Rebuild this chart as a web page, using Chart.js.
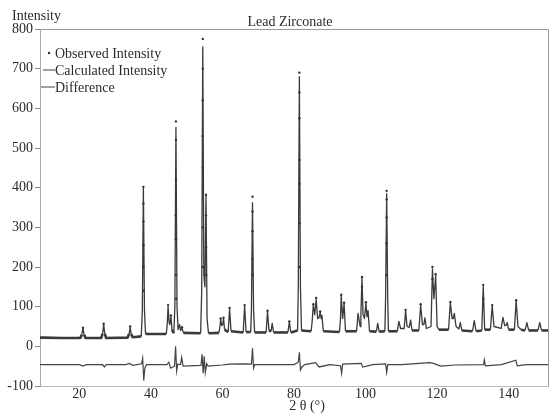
<!DOCTYPE html>
<html lang="en">
<head>
<meta charset="UTF-8">
<title>Lead Zirconate</title>
<style>
    body { margin: 0; background: #fff; }
    .wrap { width: 552px; height: 414px; position: relative; }
</style>
</head>
<body>
<div class="wrap"><canvas id="xrd"></canvas></div>
<script src="https://cdn.jsdelivr.net/npm/chart.js"></script>
<script>
// 2-theta (deg), intensity - vertices of the calculated profile
const calculated = [
    [9,22],[10,22],[15,21],[20.3,21],[20.7,30],[21.0,45],[21.3,30],[21.7,21],
    [26.1,21],[26.5,32],[26.8,55],[27.1,32],[27.5,21],
    [33.5,22],[33.9,31],[34.2,48],[34.5,31],[34.9,23],
    [37.3,25],[37.6,90],[37.9,400],[38.2,90],[38.5,32],[39,31],
    [44.3,31],[44.6,60],[44.8,100],[45.1,60],[45.3,55],[45.6,75],[45.9,42],[46.4,33],
    [46.7,100],[47.0,552],[47.3,100],[47.6,42],[48.0,55],[48.3,40],[48.7,46],[49.1,34],
    [53.9,33],[54.2,140],[54.5,755],[54.8,180],[55.1,150],[55.4,380],[55.7,70],[56.1,33],
    [59.0,34],[59.3,50],[59.5,68],[59.8,52],[60.1,56],[60.3,70],[60.6,42],[61.6,36],[62.0,95],[62.4,38],
    [65.8,35],[66.2,102],[66.6,36],[67.9,36],[68.1,90],[68.4,362],[68.7,90],[69.0,35],
    [72.2,35],[72.6,88],[73.0,40],[73.6,38],[73.9,58],[74.3,35],[78.3,35],[78.7,62],[79.1,35],
    [81.0,40],[81.2,150],[81.5,680],[81.8,150],[82.1,40],
    [84.8,38],[85.1,65],[85.4,104],[85.8,80],[86.2,118],[86.6,70],[87.0,72],[87.3,86],[87.6,70],[87.8,78],[88.2,38],
    [92.7,36],[93.0,70],[93.2,128],[93.6,70],[94.0,108],[94.4,38],
    [97.5,38],[97.9,83],[98.5,50],[98.7,80],[99.0,172],[99.3,80],[99.7,70],[100.1,109],[100.4,75],[100.7,90],[101.1,38],
    [103.0,37],[103.4,58],[103.8,37],
    [105.4,38],[105.6,120],[105.9,385],[106.2,120],[106.4,38],
    [108.9,38],[109.3,63],[109.8,45],[110.8,45],[111.2,90],[111.6,50],[112.2,48],[112.6,66],[113.0,40],
    [114.9,40],[115.4,104],[115.9,55],[116.3,55],[116.6,72],[117.0,45],
    [118.3,50],[118.7,195],[119.1,120],[119.6,178],[120.0,50],[120.5,42],
    [123.2,42],[123.7,110],[124.2,70],[124.5,70],[124.8,83],[125.3,50],[126.1,44],[126.5,60],[126.9,40],
    [129.9,38],[130.4,65],[130.9,38],
    [132.5,40],[132.9,152],[133.3,42],
    [134.9,42],[135.4,102],[135.9,50],[137.9,45],[138.4,73],[138.9,52],[139.2,52],[139.6,60],[140.0,42],
    [141.6,42],[142.1,114],[142.6,50],[143.5,42],
    [144.6,40],[145.1,60],[145.6,40],
    [148.2,40],[148.7,60],[149.2,40],[151,40]
];

// observed points (dots) that stand out from the line
const observed = [
    [21.0,47],[26.8,57],[34.2,50],
    [37.9,402],[37.9,360],[37.9,315],[37.9,255],[37.9,200],[37.9,140],
    [44.8,104],[45.6,78],
    [47.0,567],[47.0,520],[47.0,420],[46.95,330],[47.0,270],[47.0,180],[47.05,120],
    [48.7,48],
    [54.5,775],[54.5,700],[54.5,620],[54.45,530],[54.5,450],[54.5,300],[54.55,200],
    [55.4,382],[55.4,330],[55.4,250],[55.45,180],
    [59.5,70],[60.3,72],[62.0,97],[66.2,104],
    [68.4,377],[68.4,340],[68.4,290],[68.4,220],[68.45,180],
    [72.6,90],[78.7,63],
    [81.5,690],[81.5,640],[81.5,575],[81.5,470],[81.5,410],[81.5,310],[81.5,200],
    [85.4,106],[86.2,122],[87.3,88],
    [93.2,130],[94.0,110],
    [99.0,175],[99.0,150],[100.1,111],
    [105.9,392],[105.9,370],[105.9,325],[105.9,260],[105.9,180],
    [111.2,92],[115.4,106],
    [118.7,200],[118.7,170],[119.6,182],
    [123.7,112],[132.9,155],[132.9,120],[135.4,104],[142.1,116]
];

// difference curve (observed - calculated, shifted)
const difference = [
    [9,-46],[20,-46],[21,-50],[22,-46],[26.5,-46],[27,-52],[27.5,-46],[33,-46],[34,-43],[35,-48],
    [37.4,-44],[37.7,-30],[38.0,-86],[38.3,-55],[38.8,-46],
    [44.5,-46],[45,-40],[45.5,-55],[46.6,-50],[46.9,0],[47.2,-62],[47.5,-45],[48.3,-46],[48.6,-28],[49,-50],
    [54,-48],[54.3,-20],[54.6,-68],[54.9,-25],[55.2,-66],[55.6,-44],[56,-50],
    [60,-47],[62,-45],[66,-44],[68.1,-45],[68.4,-5],[68.7,-55],[69,-46],
    [72,-46],[80,-46],[81.2,-40],[81.5,-15],[81.8,-60],[82.2,-52],[83,-46],
    [86,-41],[87,-52],[90,-46],[93,-49],[93.3,-68],[93.6,-45],[98.8,-43],[99.2,-52],[102,-46],
    [105.6,-44],[105.9,-66],[106.2,-46],[110,-46],[118,-41],[119,-43],[121,-50],[125,-47],
    [133,-46],[133.2,-34],[133.5,-49],[138,-46],[142,-35],[142.4,-49],[145,-46],[151,-46]
];

const xTicks = [20, 40, 60, 80, 100, 120, 140];
const yTicks = [-100, 0, 100, 200, 300, 400, 500, 600, 700, 800];

const toXY = arr => arr.map(p => ({ x: p[0], y: p[1] }));
const serif = "'Liberation Serif', 'Times New Roman', serif";

// title, axis labels, frame and the little legend in the corner
const decorations = {
    id: 'decorations',
    afterDraw(chart) {
        const c = chart.ctx;
        const a = chart.chartArea;
        c.save();
        c.strokeStyle = '#999';
        c.lineWidth = 1;
        c.beginPath();
        c.moveTo(a.left, a.top + 0.5);
        c.lineTo(a.right + 0.5, a.top + 0.5);
        c.lineTo(a.right + 0.5, a.bottom);
        c.stroke();

        c.fillStyle = '#2b2b2b';
        c.font = '14px ' + serif;
        c.textBaseline = 'alphabetic';
        c.textAlign = 'center';
        c.fillText('Lead Zirconate', 290, 26);
        c.fillText('2 θ (°)', 307, 410);
        c.textAlign = 'left';
        c.fillText('Intensity', 12, 20);

        // legend
        c.textBaseline = 'middle';
        c.beginPath();
        c.arc(49, 53, 1.2, 0, Math.PI * 2);
        c.fill();
        c.fillText('Observed Intensity', 55, 54);
        c.strokeStyle = '#444';
        c.lineWidth = 1.2;
        c.beginPath();
        c.moveTo(43, 70); c.lineTo(55, 70);
        c.moveTo(41, 87); c.lineTo(55, 87);
        c.stroke();
        c.fillText('Calculated Intensity', 55, 71);
        c.fillText('Difference', 55, 88);
        c.restore();
    }
};

new Chart(document.getElementById('xrd'), {
    type: 'scatter',
    data: {
        datasets: [
            {
                label: 'Observed Intensity',
                data: toXY(observed),
                showLine: false,
                pointRadius: 1.2,
                pointBackgroundColor: '#333',
                pointBorderWidth: 0,
                order: 0
            },
            {
                label: 'Calculated Intensity',
                data: toXY(calculated),
                showLine: true,
                pointRadius: 0,
                borderColor: '#3a3a3a',
                borderWidth: 1.3,
                borderJoinStyle: 'round',
                segment: {
                    borderWidth: ctx => (ctx.p0.parsed.y < 45 && ctx.p1.parsed.y < 45) ? 2.6 : 1.3
                },
                order: 1
            },
            {
                label: 'Difference',
                data: toXY(difference),
                showLine: true,
                pointRadius: 0,
                borderColor: '#444',
                borderWidth: 1.2,
                order: 2
            }
        ]
    },
    options: {
        responsive: true,
        maintainAspectRatio: false,
        animation: false,
        layout: { padding: { top: 29, right: 1, left: 0, bottom: 0 } },
        plugins: {
            legend: { display: false },
            tooltip: { enabled: false }
        },
        scales: {
            x: {
                type: 'linear',
                min: 9,
                max: 151,
                afterBuildTicks: s => { s.ticks = xTicks.map(v => ({ value: v })); },
                afterFit: s => { s.height = 28; },
                ticks: {
                    padding: 0,
                    maxRotation: 0,
                    color: '#2b2b2b',
                    font: { family: serif, size: 14 }
                },
                grid: { drawOnChartArea: false, drawTicks: false },
                border: { color: '#bbb', dash: [26, 6] }
            },
            y: {
                min: -100,
                max: 800,
                afterBuildTicks: s => { s.ticks = yTicks.map(v => ({ value: v })); },
                afterFit: s => { s.width = 40; },
                ticks: {
                    padding: 2,
                    color: '#2b2b2b',
                    font: { family: serif, size: 14 }
                },
                grid: { drawOnChartArea: false, tickLength: 5, color: '#888' },
                border: { color: '#aaa' }
            }
        }
    },
    plugins: [decorations]
});
</script>
</body>
</html>
